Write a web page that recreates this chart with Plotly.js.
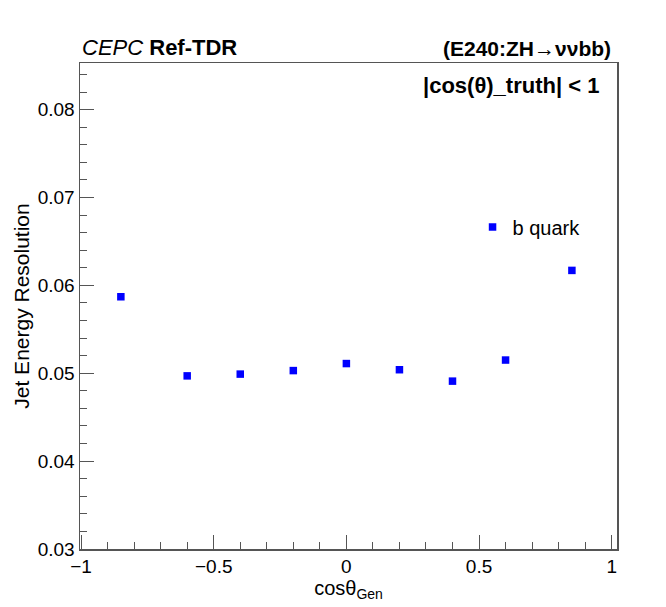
<!DOCTYPE html>
<html><head><meta charset="utf-8">
<script src="https://cdn.plot.ly/plotly-3.0.1.min.js"></script>
<style>body{margin:0;background:#fff}#c{width:666px;height:607px}</style>
</head><body><div id="c"></div>
<script>
var cosTheta = [-0.85, -0.6, -0.4, -0.2, 0.0, 0.2, 0.4, 0.6, 0.85];
var resolution = [0.0587, 0.0497, 0.0499, 0.0503, 0.0511, 0.0504, 0.0491, 0.0515, 0.0617];
var resErr = [0.0003, 0.0002, 0.0002, 0.0002, 0.0002, 0.0002, 0.0002, 0.0002, 0.0003];
var seriesName = 'b quark';
var xTickVals = [-1, -0.5, 0, 0.5, 1];
var xTickText = ['\u22121', '\u22120.5', '0', '0.5', '1'];
var yTickVals = [0.03, 0.04, 0.05, 0.06, 0.07, 0.08];
var yTickText = ['0.03', '0.04', '0.05', '0.06', '0.07', '0.08'];

var font = 'Liberation Sans, Arial, sans-serif';
var trace = {
  x: cosTheta, y: resolution, type: 'scatter', mode: 'markers', name: seriesName,
  marker: {symbol: 'square', size: 7.5, color: '#0000ff'},
  error_y: {type: 'data', array: resErr, color: '#0000ff', thickness: 2.5, width: 0},
  showlegend: true
};
var layout = {
  width: 666, height: 607,
  margin: {l: 80, r: 49, t: 63, b: 58},
  paper_bgcolor: '#fff', plot_bgcolor: '#fff',
  font: {family: font, color: '#000', size: 19},
  showlegend: true,
  legend: {x: 0.731, y: 0.6626, xanchor: 'left', yanchor: 'middle', bgcolor: 'rgba(0,0,0,0)',
           font: {size: 20, family: font}, itemwidth: 30},
  xaxis: {
    range: [-1.004, 1.02], showgrid: false, zeroline: false,
    showline: true, linecolor: '#555', linewidth: 1.5, mirror: true,
    ticks: 'inside', ticklen: 14, tickcolor: '#555', tickwidth: 1,
    tickvals: xTickVals, ticktext: xTickText, tickfont: {size: 19},
    minor: {dtick: 0.1, tick0: 0, ticks: 'inside', ticklen: 7, tickcolor: '#555', showgrid: false},
    title: {text: 'cos\u03b8<sub>Gen</sub>', font: {size: 20}, standoff: 4}
  },
  yaxis: {
    range: [0.03, 0.0853], showgrid: false, zeroline: false,
    showline: true, linecolor: '#555', linewidth: 1.5, mirror: true,
    ticks: 'inside', ticklen: 14, tickcolor: '#555', tickwidth: 1,
    tickvals: yTickVals, ticktext: yTickText, tickfont: {size: 19},
    minor: {dtick: 0.002, tick0: 0.03, ticks: 'inside', ticklen: 7, tickcolor: '#555', showgrid: false},
    title: {text: 'Jet Energy Resolution', font: {size: 21}, standoff: 2}
  },
  annotations: [
    {xref: 'paper', yref: 'paper', x: 0, y: 1.003, xanchor: 'left', yanchor: 'bottom', showarrow: false,
     text: '<i>CEPC</i> <b>Ref-TDR</b>', font: {size: 22, family: font}},
    {xref: 'paper', yref: 'paper', x: 0.992, y: 1.003, xanchor: 'right', yanchor: 'bottom', showarrow: false,
     text: '<b>(E240:ZH\u2192\u03bd\u03bdbb)</b>', font: {size: 21, family: font}},
    {xref: 'paper', yref: 'paper', x: 0.97, y: 0.953, xanchor: 'right', yanchor: 'middle', showarrow: false,
     text: '<b>|cos(\u03b8)_truth| < 1</b>', font: {size: 22, family: font}}
  ]
};
Plotly.newPlot('c', [trace], layout, {displayModeBar: false, staticPlot: true});
</script></body></html>
